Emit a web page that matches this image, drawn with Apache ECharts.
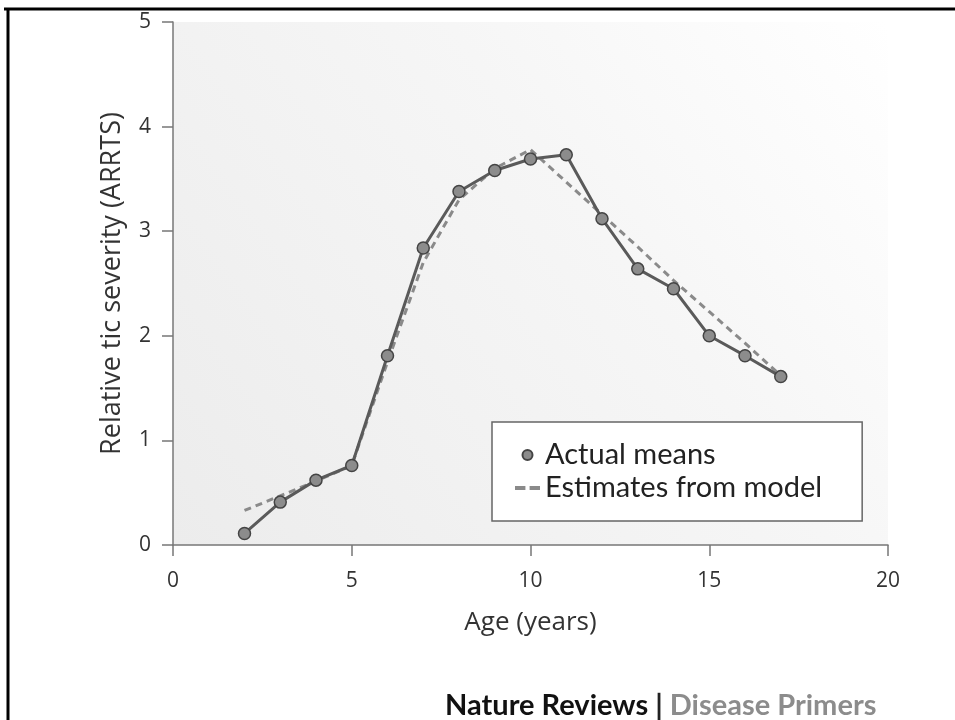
<!DOCTYPE html>
<html>
<head>
<meta charset="utf-8">
<script src="https://cdn.jsdelivr.net/npm/echarts@6/dist/echarts.min.js"></script>
<style>
    html, body {margin: 0; padding: 0; background: #fff;}
    #chart {width: 955px; height: 720px;}
</style>
</head>
<body>
<div id="chart"></div>
<script>
// age in years
var ages = [2, 3, 4, 5, 6, 7, 8, 9, 10, 11, 12, 13, 14, 15, 16, 17];
// relative tic severity, actual means
var actualMeans = [0.11, 0.41, 0.62, 0.76, 1.81, 2.84, 3.38, 3.58, 3.69, 3.73, 3.12, 2.64, 2.45, 2.0, 1.81, 1.61];
// estimates from model
var modelEstimates = [0.33, 0.47, 0.61, 0.76, 1.75, 2.7, 3.3, 3.6, 3.78, 3.47, 3.16, 2.85, 2.53, 2.23, 1.93, 1.62];
var xTicks = [0, 5, 10, 15, 20];

function pairs(xs, ys) {
    var out = [];
    for (var i = 0; i < xs.length; i++) {
        out.push([xs[i], ys[i]]);
    }
    return out;
}

var myChart = echarts.init(document.getElementById('chart'), null, {width: 955, height: 720});
var option = {
    animation: false,
    textStyle: {fontFamily: 'Lato'},
    title: {
        left: 440,
        top: 686,
        text: '{a|Nature Reviews}{c| | }{b|Disease Primers}',
        textStyle: {
            rich: {
                a: {fontFamily: 'Lato', fontWeight: 'bold', fontSize: 29, color: '#111'},
                c: {fontFamily: 'Lato', fontWeight: 'bold', fontSize: 29, color: '#222'},
                b: {fontFamily: 'Lato', fontWeight: 'bold', fontSize: 29, color: '#8c8c8c'}
            }
        }
    },
    graphic: [
        {type: 'line', shape: {x1: 4, y1: 9, x2: 955, y2: 9}, style: {stroke: '#000', lineWidth: 3}},
        {type: 'line', shape: {x1: 8, y1: 8, x2: 8, y2: 720}, style: {stroke: '#000', lineWidth: 3}}
    ],
    grid: {
        left: 173,
        right: 67,
        top: 22,
        bottom: 175,
        show: true,
        borderWidth: 0,
        backgroundColor: {
            type: 'linear', x: 0, y: 1, x2: 1, y2: 0,
            colorStops: [
                {offset: 0, color: '#ececec'},
                {offset: 0.6, color: '#f6f6f6'},
                {offset: 1, color: '#ffffff'}
            ]
        }
    },
    legend: {
        left: 492,
        top: 422,
        orient: 'vertical',
        backgroundColor: '#fff',
        borderColor: '#666',
        borderWidth: 1.5,
        borderRadius: 0,
        padding: [18, 40, 18, 23],
        itemGap: 3,
        itemWidth: 25,
        itemHeight: 10,
        textStyle: {fontFamily: 'Lato', fontSize: 29, lineHeight: 30, color: '#222'},
        data: [
            {name: 'Actual means', icon: 'circle'},
            {name: 'Estimates from model', icon: 'path://M0,0h10v4h-10z M14,0h10v4h-10z'}
        ]
    },
    xAxis: {
        type: 'value',
        min: 0,
        max: 20,
        interval: 5,
        name: 'Age (years)',
        nameLocation: 'middle',
        nameGap: 65,
        nameMoveOverlap: false,
        nameTextStyle: {fontFamily: 'Open Sans', fontSize: 26, color: '#333'},
        splitLine: {show: false},
        axisLine: {lineStyle: {color: '#777', width: 1.5}},
        axisTick: {length: 11, lineStyle: {color: '#777', width: 1.5}},
        axisLabel: {
            fontFamily: 'Open Sans', fontSize: 21, color: '#333', margin: 26,
            formatter: function (v) { return xTicks.indexOf(v) >= 0 ? v : ''; }
        }
    },
    yAxis: {
        type: 'value',
        min: 0,
        max: 5,
        interval: 1,
        name: 'Relative tic severity (ARRTS)',
        nameLocation: 'middle',
        nameGap: 47,
        nameTextStyle: {fontFamily: 'Open Sans', fontSize: 27, color: '#333'},
        splitLine: {show: false},
        axisLine: {show: true, lineStyle: {color: '#777', width: 1.5}},
        axisTick: {show: true, length: 11, lineStyle: {color: '#777', width: 1.5}},
        axisLabel: {fontFamily: 'Open Sans', fontSize: 21, color: '#333', margin: 22}
    },
    series: [
        {
            name: 'Estimates from model',
            type: 'line',
            symbol: 'none',
            z: 2,
            lineStyle: {color: '#8a8a8a', width: 3, type: [7, 5]},
            itemStyle: {color: '#8a8a8a'},
            data: pairs(ages, modelEstimates)
        },
        {
            name: 'Actual means',
            type: 'line',
            symbol: 'circle',
            symbolSize: 12,
            z: 3,
            lineStyle: {color: '#5a5a5a', width: 3},
            itemStyle: {color: '#8c8c8c', borderColor: '#444', borderWidth: 1.5},
            data: pairs(ages, actualMeans)
        }
    ]
};
myChart.setOption(option, false);
</script>
</body>
</html>
